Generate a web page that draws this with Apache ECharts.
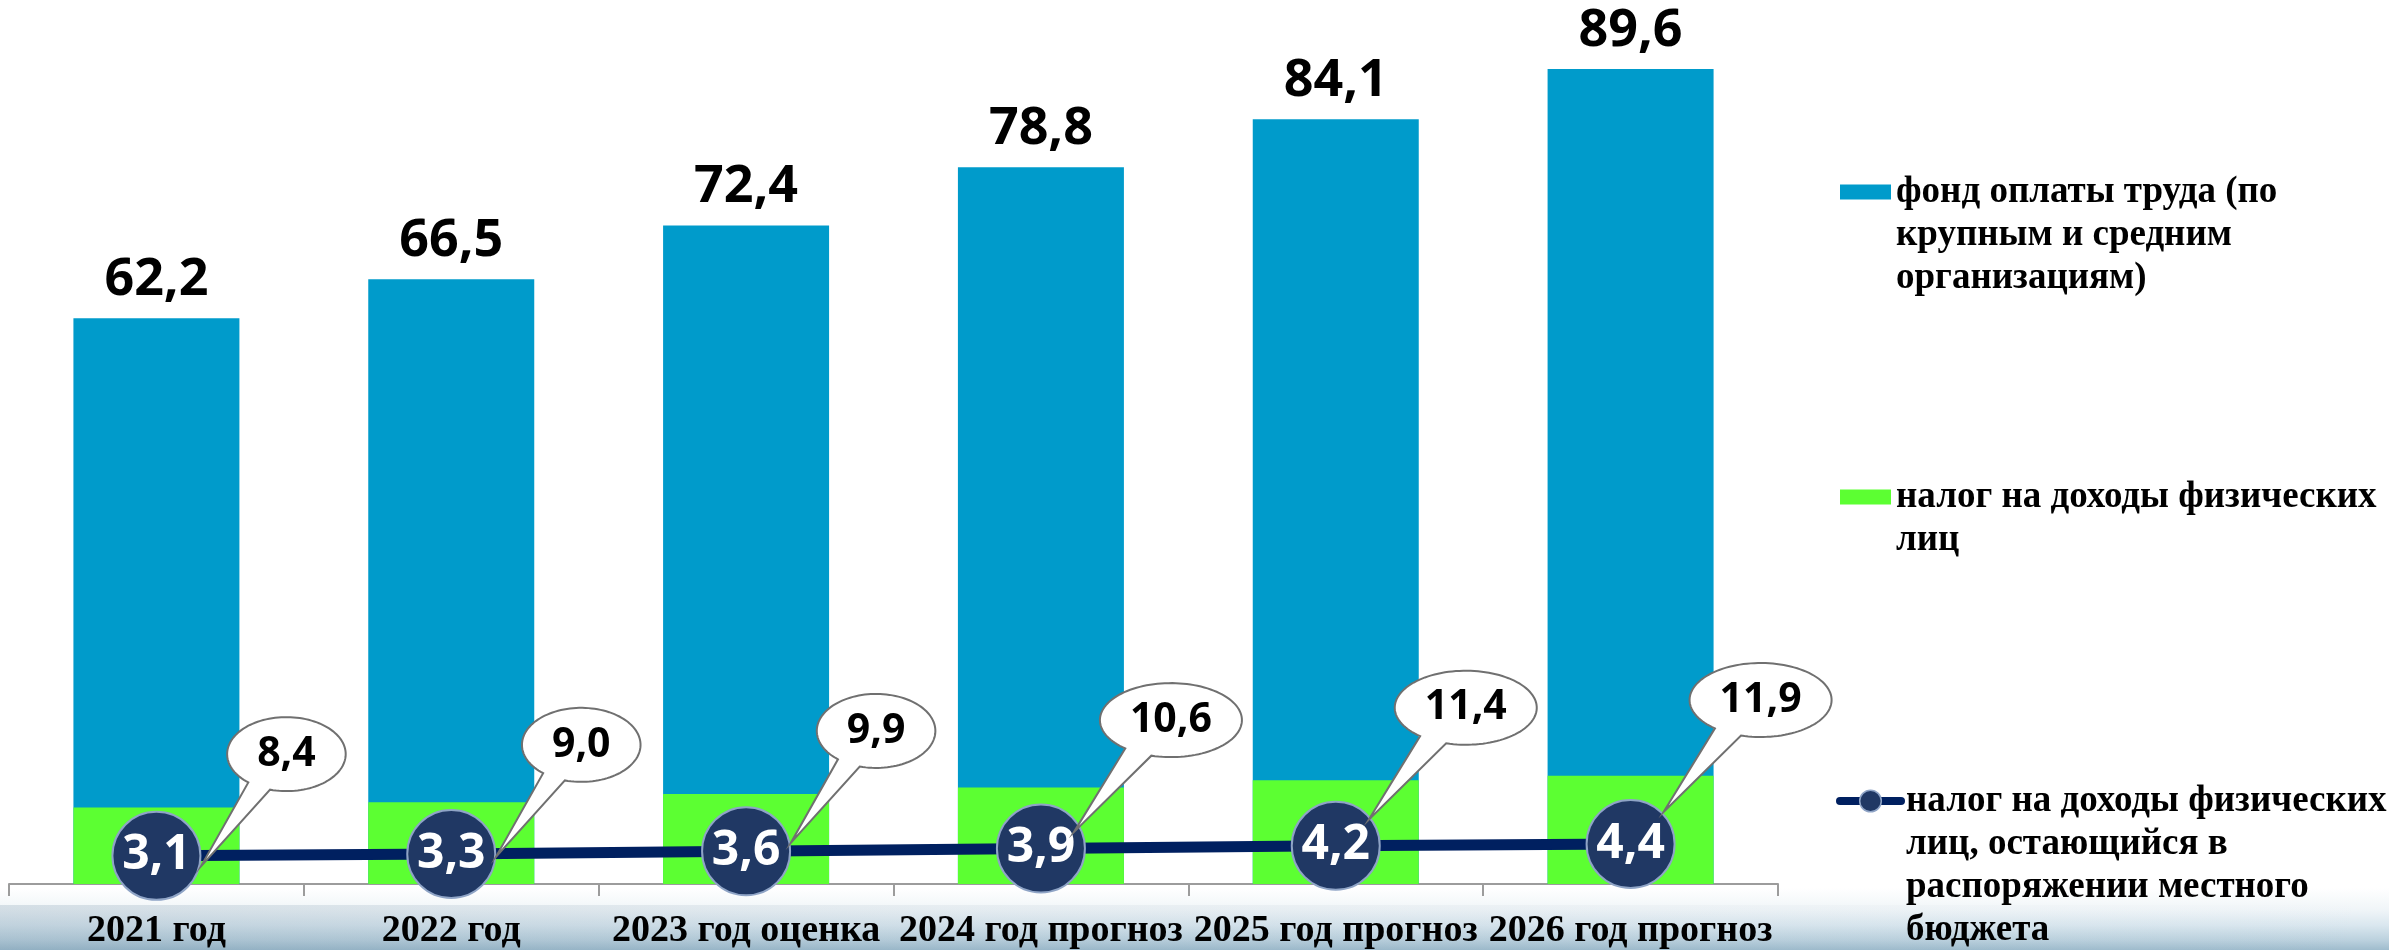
<!DOCTYPE html>
<html>
<head>
<meta charset="utf-8">
<title>Фонд оплаты труда и НДФЛ</title>
<script src="https://cdn.jsdelivr.net/npm/echarts@6/dist/echarts.min.js"></script>
<style>
  html, body { margin: 0; padding: 0; background: #ffffff; }
  #chart { width: 2389px; height: 950px; }
</style>
</head>
<body>
<div id="chart"></div>
<script>
// Years on the category axis
const categories = ['2021 год', '2022 год', '2023 год оценка', '2024 год прогноз', '2025 год прогноз', '2026 год прогноз'];
// Wage fund of large and medium organisations
const wageFund = [62.2, 66.5, 72.4, 78.8, 84.1, 89.6];
// Personal income tax
const incomeTax = [8.4, 9.0, 9.9, 10.6, 11.4, 11.9];
// Personal income tax retained by the local budget
const localShare = [3.1, 3.3, 3.6, 3.9, 4.2, 4.4];

const seriesNames = [
  'фонд оплаты труда (по крупным и средним организациям)',
  'налог на доходы физических лиц',
  'налог на доходы физических лиц, остающийся в распоряжении местного бюджета'
];
const legendLines = [
  ['фонд оплаты труда (по', 'крупным и средним', 'организациям)'],
  ['налог на доходы физических', 'лиц'],
  ['налог на доходы физических', 'лиц, остающийся в', 'распоряжении местного', 'бюджета']
];

const BLUE = '#009bcb';
const GREEN = '#5cff32';
const NAVY = '#002060';
const MARK = '#203864';
const NUM_FONT = 'Open Sans';
const SERIF = 'Liberation Serif';

const fmt = v => Number(v).toFixed(1).replace('.', ',');

// text measuring for the callout bubbles
const measureCtx = document.createElement('canvas').getContext('2d');
function textWidth(txt, size) {
  measureCtx.font = 'bold ' + size + 'px "' + NUM_FONT + '"';
  return measureCtx.measureText(txt).width;
}

// one legend block per series; blank lines above the text keep the icon
// level with the first text line (the text block is centred on the icon)
const LH = 43;
function legendBlock(idx, left, iconCenterY, opts) {
  const n = legendLines[idx].length;
  return Object.assign({
    orient: 'vertical',
    left: left,
    top: iconCenterY - (2 * n - 1) * LH / 2,
    padding: 0,
    selectedMode: false,
    data: [seriesNames[idx]],
    formatter: name => {
      const lines = legendLines[seriesNames.indexOf(name)];
      return new Array(lines.length - 1).fill(' ').concat(lines).join('\n');
    },
    textStyle: {
      fontFamily: SERIF,
      fontWeight: 'bold',
      fontSize: 37,
      lineHeight: LH,
      color: '#000'
    }
  }, opts);
}

// speech-bubble callout above each income-tax bar
function renderCallout(params, api) {
  const i = api.value(0);
  const v = api.value(1);
  const top = api.coord([i, v]);
  const zero = api.coord([i, 0]);
  const cx = top[0] + 130;
  const cy = top[1] - (zero[1] - top[1]) * 0.7;
  const txt = fmt(v);
  const a = textWidth(txt, 41) / 2 + 30;
  const b = 37;
  const pts = [];
  for (let t = 130; t <= 468; t += 3) {
    const r = t * Math.PI / 180;
    pts.push([cx + a * Math.cos(r), cy + b * Math.sin(r)]);
  }
  pts.push([cx - a - 26, cy + 112]);
  return {
    type: 'group',
    children: [
      {
        type: 'polygon',
        shape: { points: pts },
        style: { fill: '#ffffff', stroke: '#707070', lineWidth: 2 }
      },
      {
        type: 'text',
        style: {
          text: txt,
          x: cx,
          y: cy,
          align: 'center',
          verticalAlign: 'middle',
          fontFamily: NUM_FONT,
          fontWeight: 'bold',
          fontSize: 41,
          fill: '#000'
        }
      }
    ]
  };
}

const chart = echarts.init(document.getElementById('chart'), null, { renderer: 'canvas' });

chart.setOption({
  animation: false,
  backgroundColor: '#ffffff',
  graphic: [
    {
      type: 'rect',
      z: -10,
      silent: true,
      shape: { x: 0, y: 888, width: 2389, height: 62 },
      style: {
        fill: new echarts.graphic.LinearGradient(0, 0, 0, 1, [
          { offset: 0, color: '#ffffff' },
          { offset: 0.35, color: '#f0f5f8' },
          { offset: 0.6, color: '#dae7ef' },
          { offset: 0.85, color: '#bad0dd' },
          { offset: 1, color: '#9fbccd' }
        ])
      }
    },
    {
      type: 'rect',
      z: -9,
      silent: true,
      shape: { x: 0, y: 905, width: 2389, height: 45 },
      style: {
        fill: new echarts.graphic.LinearGradient(0, 0, 1, 0, [
          { offset: 0, color: 'rgba(90,125,150,0.20)' },
          { offset: 0.4, color: 'rgba(90,125,150,0.08)' },
          { offset: 1, color: 'rgba(90,125,150,0.0)' }
        ])
      }
    }
  ],
  legend: [
    legendBlock(0, 1840, 192, { icon: 'rect', itemWidth: 51, itemHeight: 15 }),
    legendBlock(1, 1840, 497, { icon: 'rect', itemWidth: 51, itemHeight: 15 }),
    legendBlock(2, 1836, 801, {
      itemWidth: 61,
      itemHeight: 27,
      lineStyle: { width: 8, cap: 'round' },
      itemStyle: { borderColor: '#8fa4c6', borderWidth: 1.5 }
    })
  ],
  grid: { left: 9, right: 611, top: 20, bottom: 65, containLabel: false },
  xAxis: {
    type: 'category',
    data: categories,
    boundaryGap: true,
    axisLine: { lineStyle: { color: '#9c9c9c', width: 2 } },
    axisTick: { show: true, length: 12, lineStyle: { color: '#9c9c9c', width: 2 } },
    axisLabel: {
      interval: 0,
      margin: 28,
      fontFamily: SERIF,
      fontWeight: 'bold',
      fontSize: 38,
      color: '#000'
    }
  },
  yAxis: {
    type: 'value',
    min: 0,
    max: 95,
    show: false,
    splitLine: { show: false }
  },
  series: [
    {
      name: seriesNames[0],
      type: 'bar',
      data: wageFund,
      barWidth: 166,
      itemStyle: { color: BLUE },
      label: {
        show: true,
        position: 'top',
        distance: 12,
        formatter: p => fmt(p.value),
        fontFamily: NUM_FONT,
        fontWeight: 'bold',
        fontSize: 52,
        color: '#000'
      }
    },
    {
      name: seriesNames[1],
      type: 'bar',
      data: incomeTax,
      barWidth: 166,
      barGap: '-100%',
      itemStyle: { color: GREEN }
    },
    {
      name: seriesNames[2],
      type: 'line',
      data: localShare,
      symbol: 'circle',
      symbolSize: 88,
      lineStyle: { color: NAVY, width: 11 },
      itemStyle: { color: MARK, borderColor: '#8fa4c6', borderWidth: 2 },
      label: {
        show: true,
        position: 'inside',
        formatter: p => fmt(p.value),
        fontFamily: NUM_FONT,
        fontWeight: 'bold',
        fontSize: 48,
        color: '#ffffff'
      },
      z: 3
    },
    {
      name: 'callouts',
      type: 'custom',
      data: incomeTax.map((v, i) => [i, v]),
      renderItem: renderCallout,
      silent: true,
      z: 5
    }
  ]
});
</script>
</body>
</html>
